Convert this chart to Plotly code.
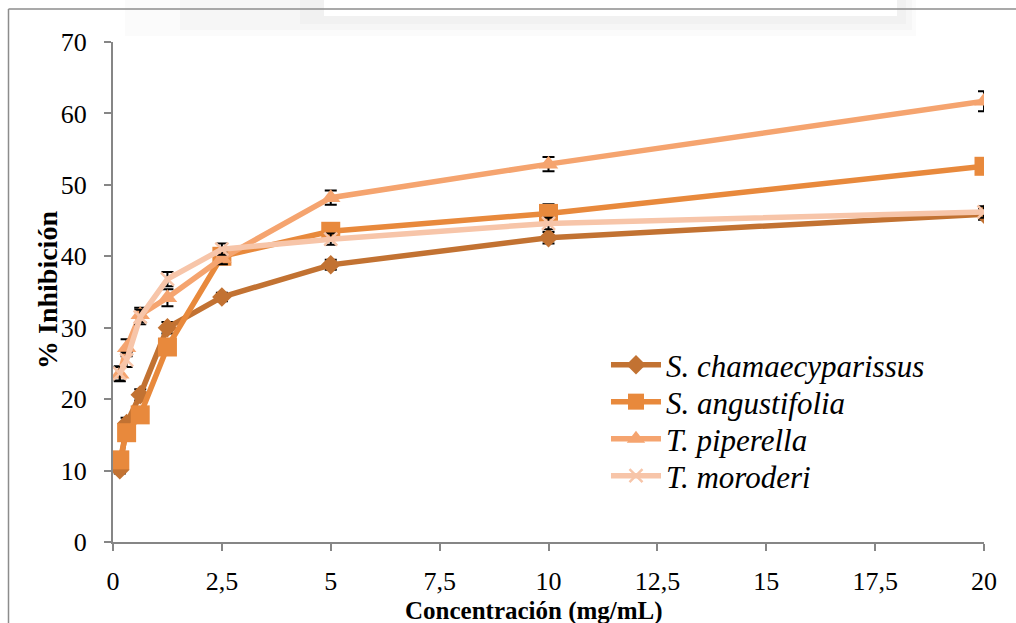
import plotly.graph_objects as go

conc = [0.156, 0.3125, 0.625, 1.25, 2.5, 5, 10, 20]

s_cham = [10.1, 16.6, 20.6, 30.0, 34.3, 38.8, 42.6, 45.9]
s_cham_err = [0.5, 0.8, 0.8, 0.8, 0.6, 0.7, 0.8, 0.8]
s_ang = [11.5, 15.3, 17.8, 27.3, 40.0, 43.5, 46.0, 52.6]
s_ang_err = [0.5, 0.5, 0.6, 0.6, 0.8, 0.8, 1.3, 0.5]
t_pip = [23.5, 27.2, 31.8, 34.2, 39.7, 48.2, 52.9, 61.7]
t_pip_err = [1.0, 1.2, 1.0, 1.2, 0.8, 1.0, 1.0, 1.4]
t_mor = [23.6, 25.5, 31.5, 36.8, 41.0, 42.4, 44.6, 46.2]
t_mor_err = [1.0, 1.0, 1.0, 1.0, 0.8, 0.8, 0.8, 0.8]

x_ticks = [0, 2.5, 5, 7.5, 10, 12.5, 15, 17.5, 20]
x_tick_labels = ["0", "2,5", "5", "7,5", "10", "12,5", "15", "17,5", "20"]
y_ticks = [0, 10, 20, 30, 40, 50, 60, 70]

series = [
    ("<i>S. chamaecyparissus</i>", s_cham, s_cham_err, "#C27232", "diamond", 15),
    ("<i>S. angustifolia</i>", s_ang, s_ang_err, "#E8893C", "square", 19),
    ("<i>T. piperella</i>", t_pip, t_pip_err, "#F5A46F", "triangle-up", 17),
    ("<i>T. moroderi</i>", t_mor, t_mor_err, "#F7C5A9", "x-thin-open", 13),
]

serif = "Liberation Serif"
L, T, PW, PH = 113, 42, 871, 500


def px(x):
    return (x - L) / PW


def py(y):
    return (T + PH - y) / PH


legend_ids = ["legend", "legend2", "legend3", "legend4"]
legend_rows = [365, 402, 439, 476]

fig = go.Figure()
for (name, vals, err, color, sym, size), lid in zip(series, legend_ids):
    marker = dict(symbol=sym, size=size, color=color)
    if sym == "x-thin-open":
        marker["line"] = dict(color=color, width=2.5)
    fig.add_trace(go.Scatter(
        x=conc, y=vals, name=name, mode="lines+markers",
        line=dict(color=color, width=5.5),
        marker=marker, legend=lid,
        error_y=dict(type="data", array=err, visible=True,
                     color="black", thickness=2, width=6),
    ))

legend_common = dict(xanchor="left", yanchor="middle",
                     font=dict(family=serif, size=31, color="black"),
                     bgcolor="rgba(0,0,0,0)", itemwidth=50,
                     itemsizing="trace")
legends = {}
for lid, row in zip(legend_ids, legend_rows):
    legends[lid] = dict(x=0.566, y=py(row), **legend_common)

fig.update_layout(
    width=1016, height=623,
    margin=dict(l=L, r=1016 - L - PW, t=T, b=623 - T - PH, autoexpand=False),
    paper_bgcolor="white", plot_bgcolor="white",
    font=dict(family=serif, color="black", size=26),
    showlegend=True,
    **legends,
    xaxis=dict(range=[0, 20], tickvals=x_ticks, ticktext=x_tick_labels,
               showgrid=False, zeroline=False, showline=True, automargin=False,
               linecolor="#868686", linewidth=2, ticks="outside",
               ticklen=7, tickcolor="#868686", tickwidth=1.5,
               tickfont=dict(family=serif, size=26), ticklabelstandoff=8),
    yaxis=dict(range=[0, 70], tickvals=y_ticks,
               showgrid=False, zeroline=False, showline=True, automargin=False,
               linecolor="#868686", linewidth=2, ticks="outside",
               ticklen=7, tickcolor="#868686", tickwidth=1.5,
               tickfont=dict(family=serif, size=26), ticklabelstandoff=12),
    annotations=[
        dict(text="<b>Concentración (mg/mL)</b>", xref="paper", yref="paper",
             x=px(534), y=py(611), xanchor="center", yanchor="middle",
             showarrow=False, font=dict(family=serif, size=25, color="black")),
        dict(text="<b>% Inhibición</b>", xref="paper", yref="paper",
             x=px(47), y=py(290), xanchor="center", yanchor="middle",
             textangle=-90, showarrow=False,
             font=dict(family=serif, size=28, color="black")),
    ],
    shapes=[
        # faint soft shadow of an overlapping box at the top
        dict(type="rect", xref="paper", yref="paper",
             x0=px(125), x1=px(916), y0=py(36), y1=py(-2),
             fillcolor="#fbfbfb", line=dict(width=0), layer="below"),
        dict(type="rect", xref="paper", yref="paper",
             x0=px(180), x1=px(912), y0=py(30), y1=py(-2),
             fillcolor="#f6f6f6", line=dict(width=0), layer="below"),
        dict(type="rect", xref="paper", yref="paper",
             x0=px(300), x1=px(906), y0=py(24), y1=py(-2),
             fillcolor="#f1f1f1", line=dict(width=0), layer="below"),
        dict(type="rect", xref="paper", yref="paper",
             x0=px(324), x1=px(897), y0=py(16), y1=py(-2),
             fillcolor="white", line=dict(width=0), layer="below"),
        # outer chart border (left and top)
        dict(type="line", xref="paper", yref="paper",
             x0=px(8.5), x1=px(8.5), y0=py(9), y1=py(630),
             line=dict(color="#8c8c8c", width=1.5)),
        dict(type="line", xref="paper", yref="paper",
             x0=px(8.5), x1=px(1030), y0=py(9), y1=py(9),
             line=dict(color="#8c8c8c", width=1.5)),
    ],
)

fig.write_html("out.html",
               config={"displayModeBar": False},
               post_script="document.body.style.margin='0px';"
                           "document.body.style.overflow='hidden';")
